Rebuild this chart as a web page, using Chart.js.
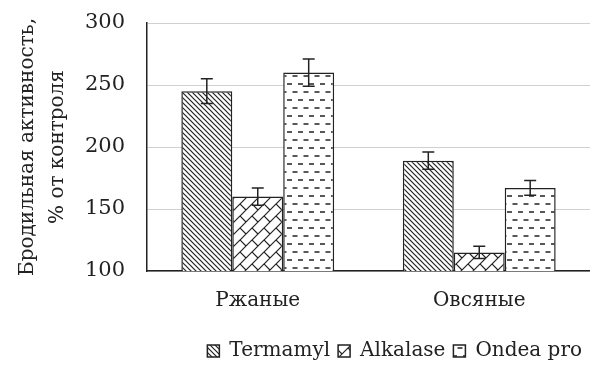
<!DOCTYPE html>
<html>
<head>
<meta charset="utf-8">
<script src="https://cdn.jsdelivr.net/npm/chart.js@4.4.0/dist/chart.umd.min.js"></script>
<style>
	html, body { margin: 0; padding: 0; background: #fff; }
	#wrap { width: 590px; height: 367px; }
</style>
</head>
<body>
<div id="wrap"><canvas id="chart" width="590" height="367"></canvas></div>
<script>
	// Chart data
	var categories = [ 'Ржаные', 'Овсяные' ];
	var seriesNames = [ 'Termamyl', 'Alkalase', 'Ondea pro' ];
	var termamyl = [ 245, 189 ];
	var alkalase = [ 160, 115 ];
	var ondea = [ 260, 167 ];
	var termamylErr = [ 10, 7 ];
	var alkalaseErr = [ 7, 5 ];
	var ondeaErr = [ 11, 6 ];
	var yTicks = [ 100, 150, 200, 250, 300 ];

	var FONT = "'DejaVu Serif', 'Liberation Serif', serif";

	// Pattern fills
	function makePattern( w, h, draw ) {
		var c = document.createElement( 'canvas' );
		c.width = w;
		c.height = h;
		var g = c.getContext( '2d' );
		g.fillStyle = '#fff';
		g.fillRect( 0, 0, w, h );
		g.strokeStyle = '#222';
		g.lineWidth = 1.2;
		draw( g );
		return g.createPattern( c, 'repeat' );
	}

	var ctx = document.getElementById( 'chart' ).getContext( '2d' );

	var diagPattern = makePattern( 5, 5, function( g ) {
		g.beginPath();
		g.moveTo( -1, -1 ); g.lineTo( 6, 6 );
		g.moveTo( -1, 4 ); g.lineTo( 1, 6 );
		g.moveTo( 4, -1 ); g.lineTo( 6, 1 );
		g.stroke();
	} );

	// diagonal brick: "/" lines with short connectors
	var brickPattern = makePattern( 12, 12, function( g ) {
		g.beginPath();
		g.moveTo( -1, 13 ); g.lineTo( 13, -1 );
		g.moveTo( -1, 1 ); g.lineTo( 1, -1 );
		g.moveTo( 11, 13 ); g.lineTo( 13, 11 );
		g.moveTo( 0, 0 ); g.lineTo( 6, 6 );
		g.stroke();
	} );

	var dashPattern = makePattern( 11, 16, function( g ) {
		g.lineWidth = 1.6;
		g.beginPath();
		g.moveTo( 1, 4 ); g.lineTo( 6, 4 );
		g.moveTo( 6.5, 12 ); g.lineTo( 11, 12 );
		g.moveTo( 0, 12 ); g.lineTo( 0.5, 12 );
		g.stroke();
	} );

	var errors = [ termamylErr, alkalaseErr, ondeaErr ];

	// Error bars drawn through the y scale
	var errorBarPlugin = {
		id: 'errorBars',
		afterDatasetsDraw: function( chart ) {
			var c = chart.ctx;
			var yScale = chart.scales.y;
			c.save();
			c.strokeStyle = '#222';
			c.lineWidth = 1.5;
			chart.data.datasets.forEach( function( ds, i ) {
				var meta = chart.getDatasetMeta( i );
				meta.data.forEach( function( bar, j ) {
					var v = ds.data[ j ];
					var e = errors[ i ][ j ];
					var yTop = yScale.getPixelForValue( v + e );
					var yBot = yScale.getPixelForValue( v - e );
					c.beginPath();
					c.moveTo( bar.x, yTop ); c.lineTo( bar.x, yBot );
					c.moveTo( bar.x - 6, yTop ); c.lineTo( bar.x + 6, yTop );
					c.moveTo( bar.x - 6, yBot ); c.lineTo( bar.x + 6, yBot );
					c.stroke();
				} );
			} );
			c.restore();
		}
	};

	new Chart( ctx, {
		type: 'bar',
		data: {
			labels: categories,
			datasets: [
				{ label: seriesNames[ 0 ], data: termamyl, backgroundColor: diagPattern, borderColor: '#222', borderWidth: 1.5 },
				{ label: seriesNames[ 1 ], data: alkalase, backgroundColor: brickPattern, borderColor: '#222', borderWidth: 1.5 },
				{ label: seriesNames[ 2 ], data: ondea, backgroundColor: dashPattern, borderColor: '#222', borderWidth: 1.5 }
			]
		},
		plugins: [ errorBarPlugin ],
		options: {
			responsive: false,
			animation: false,
			layout: { padding: { top: 23, right: 0, bottom: -4, left: 0 } },
			datasets: {
				bar: { categoryPercentage: 0.69, barPercentage: 1.0 }
			},
			scales: {
				x: {
					grid: { display: false, drawTicks: false },
					border: { display: true, color: '#222', width: 1.5 },
					ticks: { color: '#222', font: { family: FONT, size: 20 }, padding: 18 },
					afterFit: function( s ) {
						s.height = 62;
						s.paddingLeft = 0;
						s.paddingRight = 0;
					}
				},
				y: {
					min: 100,
					max: 300,
					afterBuildTicks: function( s ) {
						s.ticks = yTicks.map( function( v ) { return { value: v }; } );
					},
					grid: { color: '#d0d0d0', lineWidth: 1, drawTicks: false },
					border: { display: true, color: '#222', width: 1.5 },
					ticks: { color: '#222', font: { family: FONT, size: 21 }, padding: 22 },
					title: {
						display: true,
						text: [ 'Бродильная активность,', '% от контроля' ],
						color: '#222',
						font: { family: FONT, size: 20, lineHeight: 1.5 },
						padding: { top: 13, bottom: 0 }
					},
					afterFit: function( s ) {
						s.width = 147;
						s.paddingTop = 0;
						s.paddingBottom = 0;
					}
				}
			},
			plugins: {
				legend: {
					position: 'bottom',
					align: 'end',
					labels: {
						color: '#222',
						font: { family: FONT, size: 20 },
						boxWidth: 12,
						boxHeight: 12,
						padding: 8,
						useBorderRadius: false
					}
				},
				tooltip: { enabled: false }
			}
		}
	} );
</script>
</body>
</html>
